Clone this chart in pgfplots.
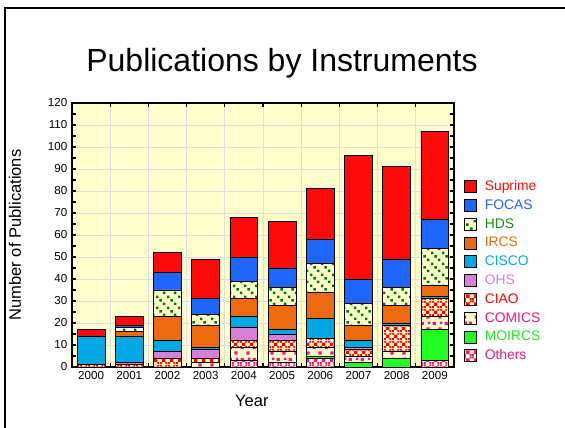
\documentclass[border=0pt]{standalone}
\usepackage{fontspec}
\setmainfont{Liberation Sans}
\usepackage{pgfplots}
\pgfplotsset{compat=1.18}
\usepackage{pgfplotstable}
\usetikzlibrary{patterns}

\definecolor{bgy}{RGB}{255,255,204}
\definecolor{csup}{RGB}{255,10,10}
\definecolor{cfoc}{RGB}{31,102,255}
\definecolor{chds}{RGB}{0,120,0}
\definecolor{circs}{RGB}{238,106,16}
\definecolor{ccis}{RGB}{0,168,230}
\definecolor{cohs}{RGB}{216,128,216}
\definecolor{cciao}{RGB}{255,0,0}
\definecolor{ccom}{RGB}{240,20,140}
\definecolor{cmoi}{RGB}{32,255,32}
\definecolor{coth}{RGB}{240,20,140}
\definecolor{ctxhds}{RGB}{20,140,20}
\definecolor{ctxmoi}{RGB}{40,230,40}

\pgfdeclarepatternformonly{hdsdots}{\pgfpointorigin}{\pgfpoint{8.4pt}{8.4pt}}{\pgfpoint{8.4pt}{8.4pt}}{%
  \pgfpathrectangle{\pgfpoint{0pt}{6.4pt}}{\pgfpoint{2pt}{2pt}}%
  \pgfpathrectangle{\pgfpoint{2.8pt}{3.6pt}}{\pgfpoint{2pt}{2pt}}%
  \pgfpathrectangle{\pgfpoint{5.6pt}{0.8pt}}{\pgfpoint{2pt}{2pt}}%
  \pgfusepath{fill}}
\pgfdeclarepatternformonly{xcheck}{\pgfpointorigin}{\pgfpoint{6pt}{6pt}}{\pgfpoint{6pt}{6pt}}{%
  \pgfpathrectangle{\pgfpoint{0pt}{0pt}}{\pgfpoint{1.5pt}{1.5pt}}%
  \pgfpathrectangle{\pgfpoint{1.5pt}{1.5pt}}{\pgfpoint{1.5pt}{1.5pt}}%
  \pgfpathrectangle{\pgfpoint{3pt}{3pt}}{\pgfpoint{1.5pt}{1.5pt}}%
  \pgfpathrectangle{\pgfpoint{4.5pt}{4.5pt}}{\pgfpoint{1.5pt}{1.5pt}}%
  \pgfpathrectangle{\pgfpoint{4.5pt}{0pt}}{\pgfpoint{1.5pt}{1.5pt}}%
  \pgfpathrectangle{\pgfpoint{3pt}{1.5pt}}{\pgfpoint{1.5pt}{1.5pt}}%
  \pgfpathrectangle{\pgfpoint{1.5pt}{3pt}}{\pgfpoint{1.5pt}{1.5pt}}%
  \pgfpathrectangle{\pgfpoint{0pt}{4.5pt}}{\pgfpoint{1.5pt}{1.5pt}}%
  \pgfusepath{fill}}
\pgfdeclarepatternformonly{comsq}{\pgfpointorigin}{\pgfpoint{9pt}{9pt}}{\pgfpoint{9pt}{9pt}}{%
  \pgfpathrectangle{\pgfpoint{0.6pt}{5.4pt}}{\pgfpoint{2.6pt}{2.6pt}}%
  \pgfpathrectangle{\pgfpoint{5.2pt}{1.0pt}}{\pgfpoint{2.6pt}{2.6pt}}%
  \pgfpathrectangle{\pgfpoint{6.4pt}{6.2pt}}{\pgfpoint{2.0pt}{2.0pt}}%
  \pgfusepath{fill}}

\pgfplotstableread{
x oth moi com ciao ohs cis irc hds foc sup
0 0 0 0 1 0 13 0 0 0 3
1 0 0 0 1 1 12 2 2 1 4
2 0 0 0 4 3 5 11 12 8 9
3 0 0 2 2 4 1 10 5 7 18
4 3 0 6 3 6 5 8 8 11 18
5 2 0 5 5 3 2 11 8 9 21
6 4 1 4 4 0 9 12 13 11 23
7 0 2 3 3 1 3 7 10 11 56
8 0 4 3 12 0 1 8 8 13 42
9 3 14 6 8 0 1 5 17 13 40
}\datatab

\pgfplotsset{
  bl/.style={draw=black, line width=0.6pt,
    legend image code/.code={\draw[##1, line width=0.6pt] (0pt,-4.5pt) rectangle (9pt,4.5pt);}},
}

\begin{document}
\begin{tikzpicture}
\useasboundingbox (0,0) rectangle (423.75pt,321pt);
\begin{axis}[
  at={(54pt,45.75pt)}, anchor=south west,
  scale only axis, width=286.5pt, height=198pt,
  ybar stacked, bar width=0.73,
  xmin=-0.5, xmax=9.5, ymin=0, ymax=120,
  xtick={-0.5,0.5,1.5,2.5,3.5,4.5,5.5,6.5,7.5,8.5,9.5},
  x tick label as interval,
  xticklabels={2000,2001,2002,2003,2004,2005,2006,2007,2008,2009},
  ytick={0,10,...,120}, minor y tick num=1,
  tick align=inside, major tick length=3pt, minor tick length=3pt,
  xmajorgrids, ymajorgrids, grid style={color=black!13, line width=0.6pt},
  axis line style={line width=1.2pt},
  tick style={line width=0.9pt, black},
  axis background/.style={fill=bgy},
  ticklabel style={font=\fontsize{8.7}{10}\selectfont},
  /pgf/number format/assume math mode=true,
  xlabel={Year}, ylabel={Number of Publications},
  label style={font=\fontsize{12.4}{14}\selectfont},
  ylabel style={at={(axis description cs:-0.149,0.5)}, anchor=center},
  xlabel style={at={(axis description cs:0.471,-0.129)}, anchor=center},
  reverse legend, legend cell align=left,
  legend style={at={(1.015,0.725)}, anchor=north west, draw=none, fill=none,
    font=\fontsize{10.4}{12}\selectfont, row sep=2.1pt,
    /tikz/every odd column/.append style={column sep=5pt},
    nodes={inner sep=1pt, text height=8pt, text depth=2pt}},
]
\addplot[bl, fill=bgy, postaction={pattern=xcheck, pattern color=coth}] table[x=x,y=oth]{\datatab};
\addlegendentry{\textcolor{coth}{Others}}
\addplot[bl, fill=cmoi] table[x=x,y=moi]{\datatab};
\addlegendentry{\textcolor{ctxmoi}{MOIRCS}}
\addplot[bl, fill=bgy, postaction={pattern=comsq, pattern color=ccom}] table[x=x,y=com]{\datatab};
\addlegendentry{\textcolor{ccom}{COMICS}}
\addplot[bl, fill=bgy, postaction={pattern=xcheck, pattern color=cciao}] table[x=x,y=ciao]{\datatab};
\addlegendentry{\textcolor{cciao}{CIAO}}
\addplot[bl, fill=cohs] table[x=x,y=ohs]{\datatab};
\addlegendentry{\textcolor{cohs}{OHS}}
\addplot[bl, fill=ccis] table[x=x,y=cis]{\datatab};
\addlegendentry{\textcolor{ccis}{CISCO}}
\addplot[bl, fill=circs] table[x=x,y=irc]{\datatab};
\addlegendentry{\textcolor{circs}{IRCS}}
\addplot[bl, fill=bgy, postaction={pattern=hdsdots, pattern color=chds}] table[x=x,y=hds]{\datatab};
\addlegendentry{\textcolor{ctxhds}{HDS}}
\addplot[bl, fill=cfoc] table[x=x,y=foc]{\datatab};
\addlegendentry{\textcolor{cfoc}{FOCAS}}
\addplot[bl, fill=csup] table[x=x,y=sup]{\datatab};
\addlegendentry{\textcolor{csup}{Suprime}}
\end{axis}
\node[font=\fontsize{24}{28}\selectfont] at (211.5pt,273.5pt) {Publications by Instruments};
\draw[line width=1.5pt] (3.75pt,-5pt) -- (3.75pt,315pt) -- (430pt,315pt);
\end{tikzpicture}
\end{document}
